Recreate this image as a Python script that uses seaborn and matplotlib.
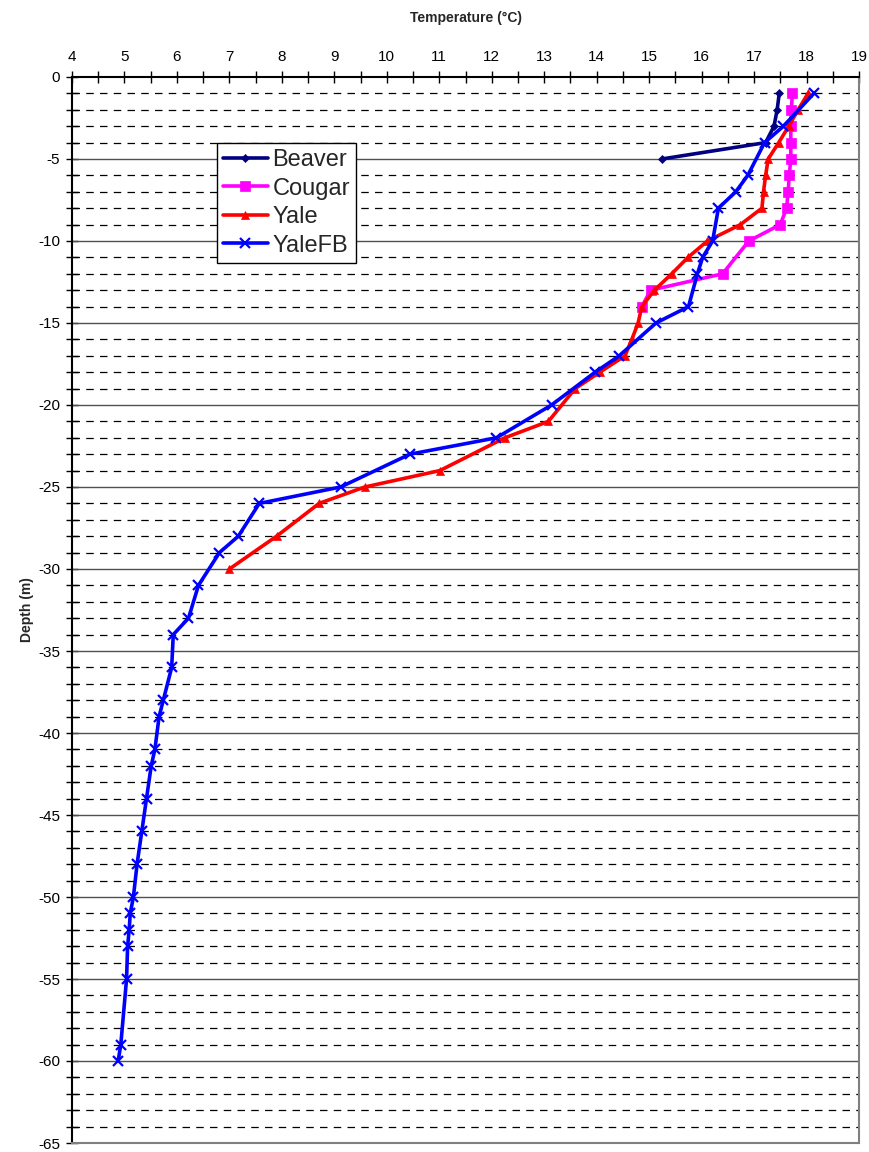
import matplotlib
matplotlib.use("Agg")
import matplotlib.pyplot as plt
from matplotlib.ticker import MultipleLocator
import seaborn as sns
import pandas as pd

# ---- data ----
beaver_depth = [-1, -2, -3, -4, -5]
beaver_temp = [17.48, 17.44, 17.38, 17.22, 15.24]

cougar_depth = [-1, -2, -3, -4, -5, -6, -7, -8, -9, -10, -12, -13, -14]
cougar_temp = [17.73, 17.71, 17.70, 17.70, 17.70, 17.67, 17.65, 17.62, 17.50, 16.90, 16.40, 15.03, 14.86]

yale_depth = [-1, -2, -3, -4, -5, -6, -7, -8, -9, -10, -11, -12, -13, -14, -15, -16, -17,
              -18, -19, -21, -22, -24, -25, -26, -28, -30]
yale_temp = [18.03, 17.84, 17.66, 17.47, 17.27, 17.22, 17.18, 17.15, 16.74, 16.11, 15.74,
             15.43, 15.10, 14.86, 14.79, 14.67, 14.54, 14.06, 13.59, 13.08, 12.25, 11.01,
             9.58, 8.71, 7.90, 7.00]

yalefb_depth = [-1, -3, -4, -6, -7, -8, -10, -11, -12, -14, -15, -17, -18, -20, -22, -23,
                -25, -26, -28, -29, -31, -33, -34, -36, -38, -39, -41, -42, -44, -46, -48,
                -50, -51, -52, -53, -55, -59, -60]
yalefb_temp = [18.14, 17.56, 17.20, 16.88, 16.65, 16.32, 16.21, 16.02, 15.92, 15.75, 15.13,
               14.43, 13.97, 13.14, 12.09, 10.44, 9.12, 7.57, 7.17, 6.81, 6.41, 6.22, 5.93,
               5.90, 5.74, 5.66, 5.58, 5.51, 5.42, 5.33, 5.24, 5.17, 5.11, 5.09, 5.06,
               5.04, 4.93, 4.88]

series_names = ["Beaver", "Cougar", "Yale", "YaleFB"]
x_ticks = list(range(4, 20))
y_ticks = list(range(-65, 1, 5))

# ---- build table ----
frames = []
for name, d, t in [("Beaver", beaver_depth, beaver_temp), ("Cougar", cougar_depth, cougar_temp),
                   ("Yale", yale_depth, yale_temp), ("YaleFB", yalefb_depth, yalefb_temp)]:
    frames.append(pd.DataFrame({"Site": name, "Depth": d, "Temp": t}))
df = pd.concat(frames, ignore_index=True)

sns.set_theme(style="white")
plt.rcParams["font.family"] = ["Liberation Sans", "DejaVu Sans"]
plt.rcParams["axes.unicode_minus"] = False

fig = plt.figure(figsize=(8.69, 11.52), dpi=100)
ax = fig.add_axes([72 / 869, 1 - 1143 / 1152, 787 / 869, (1143 - 77) / 1152])

styles = {
    "Beaver": dict(color="#000080", marker="D", markersize=4.5, mec="#000080", mfc="#000080", mew=0.5),
    "Cougar": dict(color="#FF00FF", marker="s", markersize=6.5, mec="#FF00FF", mfc="#FF00FF", mew=0.5),
    "Yale": dict(color="#FF0000", marker="^", markersize=6, mec="#FF0000", mfc="#FF0000", mew=0.5),
    "YaleFB": dict(color="#0000FF", marker="x", markersize=7.5, mec="#0000FF", mew=1.6),
}

for name in series_names:
    sub = df[df["Site"] == name]
    st = styles[name]
    sns.lineplot(data=sub, x="Temp", y="Depth", ax=ax, sort=False, estimator=None,
                 label=name, linewidth=2.6, zorder=3, **st)

ax.set_xlim(4, 19)
ax.set_ylim(-65, 0)
ax.set_xticks(x_ticks)
ax.set_yticks(y_ticks)
ax.xaxis.set_minor_locator(MultipleLocator(0.5))
ax.yaxis.set_minor_locator(MultipleLocator(1))

ax.xaxis.tick_top()
ax.xaxis.set_label_position("top")
ax.tick_params(axis="both", which="major", direction="inout", length=9, width=1,
               color="black", labelsize=11, labelcolor="black")
ax.tick_params(axis="both", which="minor", direction="inout", length=8, width=1, color="black")
ax.tick_params(axis="x", which="both", top=True, bottom=False, pad=5)
ax.tick_params(axis="y", which="both", left=True, right=False, pad=4)

ax.set_xlabel("Temperature (°C)", fontsize=10, fontweight="bold", labelpad=20)
ax.set_ylabel("Depth (m)", fontsize=10, fontweight="bold", labelpad=3)

ax.grid(False)
for yv in y_ticks[1:-1]:
    ax.axhline(yv, color="#505050", linewidth=1, zorder=1)
ax.yaxis.grid(True, which="minor", color="black", linestyle=(0, (6, 5)), linewidth=0.9, zorder=1)

for s in ["top", "left"]:
    ax.spines[s].set_color("black")
    ax.spines[s].set_linewidth(1.5)
for s in ["right", "bottom"]:
    ax.spines[s].set_color("#808080")
    ax.spines[s].set_linewidth(1.5)
ax.set_axisbelow(True)

leg = ax.legend(loc="upper left", bbox_to_anchor=((217 - 72) / 787, 1 - (143 - 77) / 1066),
                fontsize=17, frameon=True, fancybox=False, framealpha=1, edgecolor="black",
                handlelength=1.9, handletextpad=0.2, labelspacing=0.28, borderpad=0.25,
                borderaxespad=0)
leg.get_frame().set_linewidth(1)

fig.savefig("out.png", dpi=100)
